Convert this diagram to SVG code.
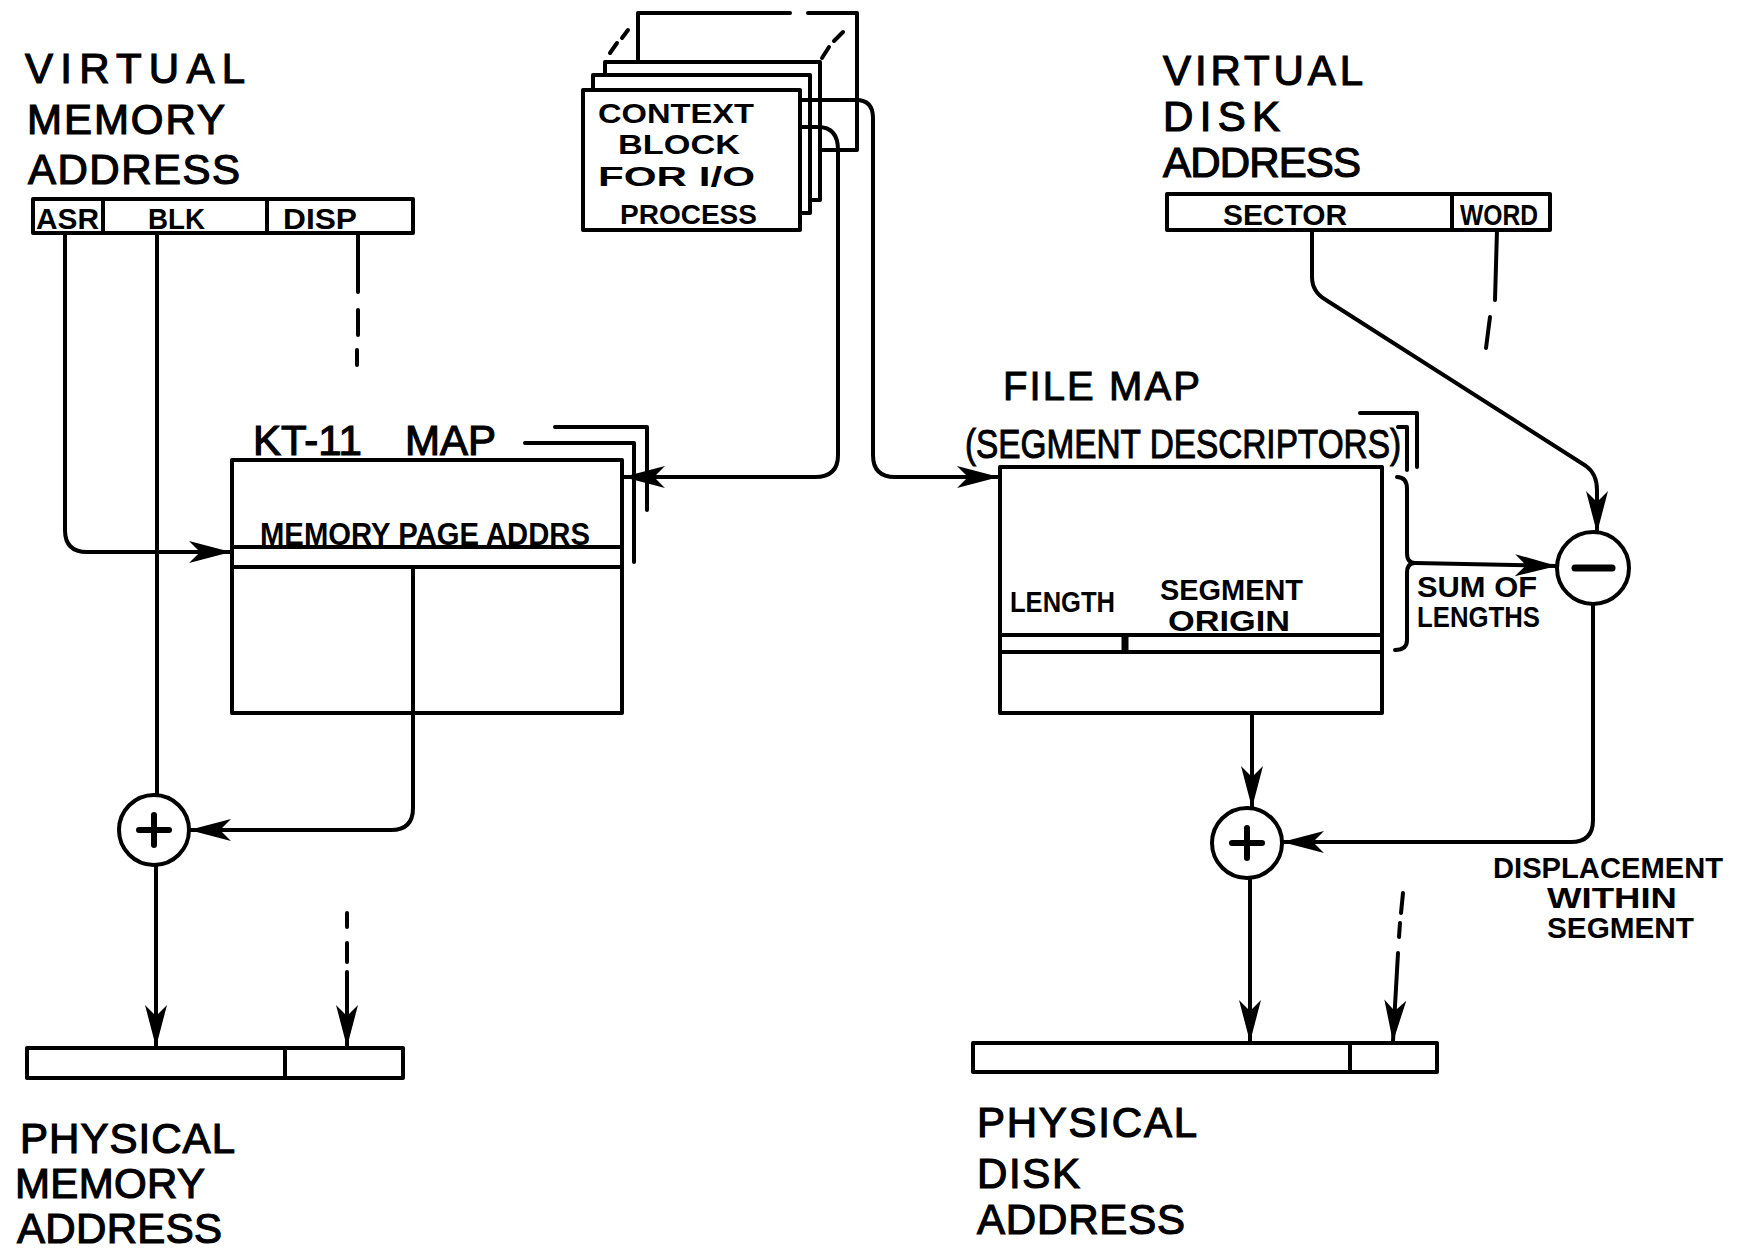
<svg xmlns="http://www.w3.org/2000/svg" width="1744" height="1252" viewBox="0 0 1744 1252">
<style>
.ln{fill:none;stroke:#000;stroke-width:4;stroke-linecap:round;stroke-linejoin:round}
.bx{fill:#fff;stroke:#000;stroke-width:4;stroke-linejoin:round}
.big{font-family:"Liberation Sans",Arial,sans-serif;font-size:42px;fill:#000;stroke:#000;stroke-width:1.2}
.mid{font-family:"Liberation Sans",Arial,sans-serif;font-size:40px;fill:#000;stroke:#000;stroke-width:1}
.sm{font-family:"Liberation Sans",Arial,sans-serif;font-size:31px;font-weight:bold;fill:#000}
.cb{font-family:"Liberation Sans",Arial,sans-serif;font-size:27px;font-weight:bold;fill:#000}
.xs{font-family:"Liberation Sans",Arial,sans-serif;font-size:29px;font-weight:bold;fill:#000}
</style>
<defs>
<marker id="ah" viewBox="0 0 44 28" refX="43" refY="14" markerWidth="44" markerHeight="28" markerUnits="userSpaceOnUse" orient="auto">
<path d="M44,14 L2,3 L13,14 L2,25 Z" fill="#000"/>
</marker>
</defs>
<rect width="1744" height="1252" fill="#fff"/>

<g id="virtual-memory-address">
<text class="big" x="25" y="83" textLength="220">VIRTUAL</text>
<text class="big" x="27" y="134" textLength="198">MEMORY</text>
<text class="big" x="28" y="184" textLength="212">ADDRESS</text>
<rect class="bx" x="33" y="199" width="380" height="34"/>
<line class="ln" x1="103" y1="199" x2="103" y2="233"/>
<line class="ln" x1="267" y1="199" x2="267" y2="233"/>
<text class="xs" x="36" y="229" textLength="63" lengthAdjust="spacingAndGlyphs">ASR</text>
<text class="xs" x="148" y="229" textLength="57" lengthAdjust="spacingAndGlyphs">BLK</text>
<text class="xs" x="283" y="229" textLength="74" lengthAdjust="spacingAndGlyphs">DISP</text>
</g>

<g id="kt11-map">
<text class="big" font-size="60" y="455"><tspan x="253">KT-11</tspan><tspan x="405">MAP</tspan></text>
<path class="ln" d="M525 443 L634 443 L634 562"/>
<path class="ln" d="M555 427 L647 427 L647 510"/>
<rect class="bx" x="232" y="460" width="390" height="253"/>
<line class="ln" x1="232" y1="547" x2="622" y2="547"/>
<line class="ln" x1="232" y1="567" x2="622" y2="567"/>
<line class="ln" x1="413" y1="567" x2="413" y2="713"/>
<text class="sm" x="260" y="545" textLength="330" lengthAdjust="spacingAndGlyphs">MEMORY PAGE ADDRS</text>
</g>

<g id="context-block">
<path class="ln" d="M638 62 L638 13 L790 13 M808 13 L857 13 L857 150 L820 150"/>
<line class="ln" x1="610" y1="53" x2="617" y2="43"/>
<line class="ln" x1="622" y1="38" x2="628" y2="30"/>
<line class="ln" x1="822" y1="58" x2="829" y2="47"/>
<line class="ln" x1="834" y1="41" x2="843" y2="32"/>
<rect class="bx" x="605" y="62" width="215" height="138"/>
<rect class="bx" x="593" y="75" width="217" height="138"/>
<rect class="bx" x="583" y="90" width="217" height="140"/>
<text class="cb" x="598" y="123" textLength="156" lengthAdjust="spacingAndGlyphs">CONTEXT</text>
<text class="cb" x="618" y="154" textLength="122" lengthAdjust="spacingAndGlyphs">BLOCK</text>
<text class="cb" x="598" y="186" textLength="157" lengthAdjust="spacingAndGlyphs">FOR I/O</text>
<text class="cb" x="620" y="224" textLength="137" lengthAdjust="spacingAndGlyphs">PROCESS</text>
</g>

<g id="virtual-disk-address">
<text class="big" font-size="39" x="1163" y="85" textLength="200">VIRTUAL</text>
<text class="big" font-size="39" x="1163" y="131" textLength="117">DISK</text>
<text class="big" font-size="39" x="1163" y="177" textLength="198">ADDRESS</text>
<rect class="bx" x="1167" y="194" width="383" height="36"/>
<line class="ln" x1="1452" y1="194" x2="1452" y2="230"/>
<text class="xs" x="1223" y="225" textLength="124" lengthAdjust="spacingAndGlyphs">SECTOR</text>
<text class="xs" x="1460" y="225" textLength="78" lengthAdjust="spacingAndGlyphs">WORD</text>
</g>

<g id="file-map">
<text class="mid" x="1003" y="400" textLength="197">FILE MAP</text>
<text class="mid" x="965" y="458" textLength="436" lengthAdjust="spacingAndGlyphs" font-size="38">(SEGMENT DESCRIPTORS)</text>
<path class="ln" d="M1360 413 L1417 413 L1417 467"/>
<path class="ln" d="M1398 427 L1407 427 L1407 470"/>
<rect class="bx" x="1000" y="467" width="382" height="246"/>
<line class="ln" x1="1000" y1="635" x2="1382" y2="635"/>
<line class="ln" x1="1000" y1="652" x2="1382" y2="652"/>
<line x1="1125" y1="635" x2="1125" y2="652" stroke="#000" stroke-width="7"/>
<text class="xs" x="1010" y="612" textLength="105" lengthAdjust="spacingAndGlyphs">LENGTH</text>
<text class="xs" x="1160" y="600" textLength="143" lengthAdjust="spacingAndGlyphs">SEGMENT</text>
<text class="xs" x="1168" y="631" textLength="122" lengthAdjust="spacingAndGlyphs">ORIGIN</text>
<path class="ln" d="M1397 477 Q1407 477 1407 489 L1407 553 Q1407 563 1415 563 Q1407 563 1407 573 L1407 640 Q1407 650 1395 650"/>
<text class="xs" x="1417" y="597" textLength="120" lengthAdjust="spacingAndGlyphs">SUM OF</text>
<text class="xs" x="1417" y="627" textLength="123" lengthAdjust="spacingAndGlyphs">LENGTHS</text>
</g>

<g id="minus-op">
<circle cx="1593" cy="568" r="36" fill="#fff" stroke="#000" stroke-width="4"/>
<line x1="1575" y1="568" x2="1612" y2="568" stroke="#000" stroke-width="7" stroke-linecap="round"/>
</g>

<g id="plus-memory">
<circle cx="154" cy="830" r="35" fill="#fff" stroke="#000" stroke-width="4"/>
<line x1="139" y1="830" x2="169" y2="830" stroke="#000" stroke-width="6" stroke-linecap="round"/>
<line x1="154" y1="815" x2="154" y2="845" stroke="#000" stroke-width="6" stroke-linecap="round"/>
</g>

<g id="plus-disk">
<circle cx="1247" cy="843" r="35" fill="#fff" stroke="#000" stroke-width="4"/>
<line x1="1232" y1="843" x2="1262" y2="843" stroke="#000" stroke-width="6" stroke-linecap="round"/>
<line x1="1247" y1="828" x2="1247" y2="858" stroke="#000" stroke-width="6" stroke-linecap="round"/>
<text class="xs" x="1493" y="878" textLength="230" lengthAdjust="spacingAndGlyphs">DISPLACEMENT</text>
<text class="xs" x="1547" y="908" textLength="130" lengthAdjust="spacingAndGlyphs">WITHIN</text>
<text class="xs" x="1547" y="938" textLength="147" lengthAdjust="spacingAndGlyphs">SEGMENT</text>
</g>

<g id="physical-memory-address">
<rect class="bx" x="27" y="1048" width="376" height="30"/>
<line class="ln" x1="285" y1="1048" x2="285" y2="1078"/>
<text class="big" font-size="39" x="20" y="1153" textLength="215">PHYSICAL</text>
<text class="big" font-size="39" x="15" y="1198" textLength="190">MEMORY</text>
<text class="big" font-size="39" x="17" y="1243" textLength="205">ADDRESS</text>
</g>

<g id="physical-disk-address">
<rect class="bx" x="973" y="1043" width="464" height="29"/>
<line class="ln" x1="1350" y1="1043" x2="1350" y2="1072"/>
<text class="big" font-size="38" x="977" y="1137" textLength="220">PHYSICAL</text>
<text class="big" font-size="38" x="977" y="1188" textLength="103">DISK</text>
<text class="big" font-size="38" x="977" y="1234" textLength="208">ADDRESS</text>
</g>

<g id="connectors">
<path class="ln" d="M65 233 L65 530 Q65 552 87 552 L230 552" marker-end="url(#ah)"/>
<line class="ln" x1="157" y1="233" x2="157" y2="795"/>
<line class="ln" x1="358" y1="233" x2="358" y2="292"/>
<line class="ln" x1="358" y1="310" x2="358" y2="335"/>
<line class="ln" x1="357" y1="350" x2="357" y2="365"/>
<path class="ln" d="M413 713 L413 808 Q413 830 391 830 L190 830" marker-end="url(#ah)"/>
<line class="ln" x1="156" y1="865" x2="156" y2="1046" marker-end="url(#ah)"/>
<line class="ln" x1="347" y1="913" x2="347" y2="927"/>
<line class="ln" x1="347" y1="943" x2="347" y2="962"/>
<line class="ln" x1="347" y1="972" x2="347" y2="1046" marker-end="url(#ah)"/>
<path class="ln" d="M800 127 L818 127 Q838 127 838 150 L838 455 Q838 477 815 477 L624 477" marker-end="url(#ah)"/>
<path class="ln" d="M800 100 L856 100 Q873 100 873 118 L873 455 Q873 477 895 477 L998 477" marker-end="url(#ah)"/>
<path class="ln" d="M1312 230 L1312 277 Q1312 292 1326 300 L1586 466 Q1597 474 1597 490 L1597 532" marker-end="url(#ah)"/>
<line class="ln" x1="1497" y1="230" x2="1495" y2="300"/>
<line class="ln" x1="1490" y1="317" x2="1486" y2="348"/>
<line class="ln" x1="1415" y1="563" x2="1556" y2="566" marker-end="url(#ah)"/>
<path class="ln" d="M1593 604 L1593 820 Q1593 842 1571 842 L1283 842" marker-end="url(#ah)"/>
<line class="ln" x1="1252" y1="713" x2="1252" y2="807" marker-end="url(#ah)"/>
<line class="ln" x1="1250" y1="878" x2="1250" y2="1041" marker-end="url(#ah)"/>
<line class="ln" x1="1403" y1="893" x2="1401" y2="913"/>
<line class="ln" x1="1400" y1="923" x2="1399" y2="937"/>
<line class="ln" x1="1398" y1="953" x2="1393" y2="1041" marker-end="url(#ah)"/>
</g>
</svg>
